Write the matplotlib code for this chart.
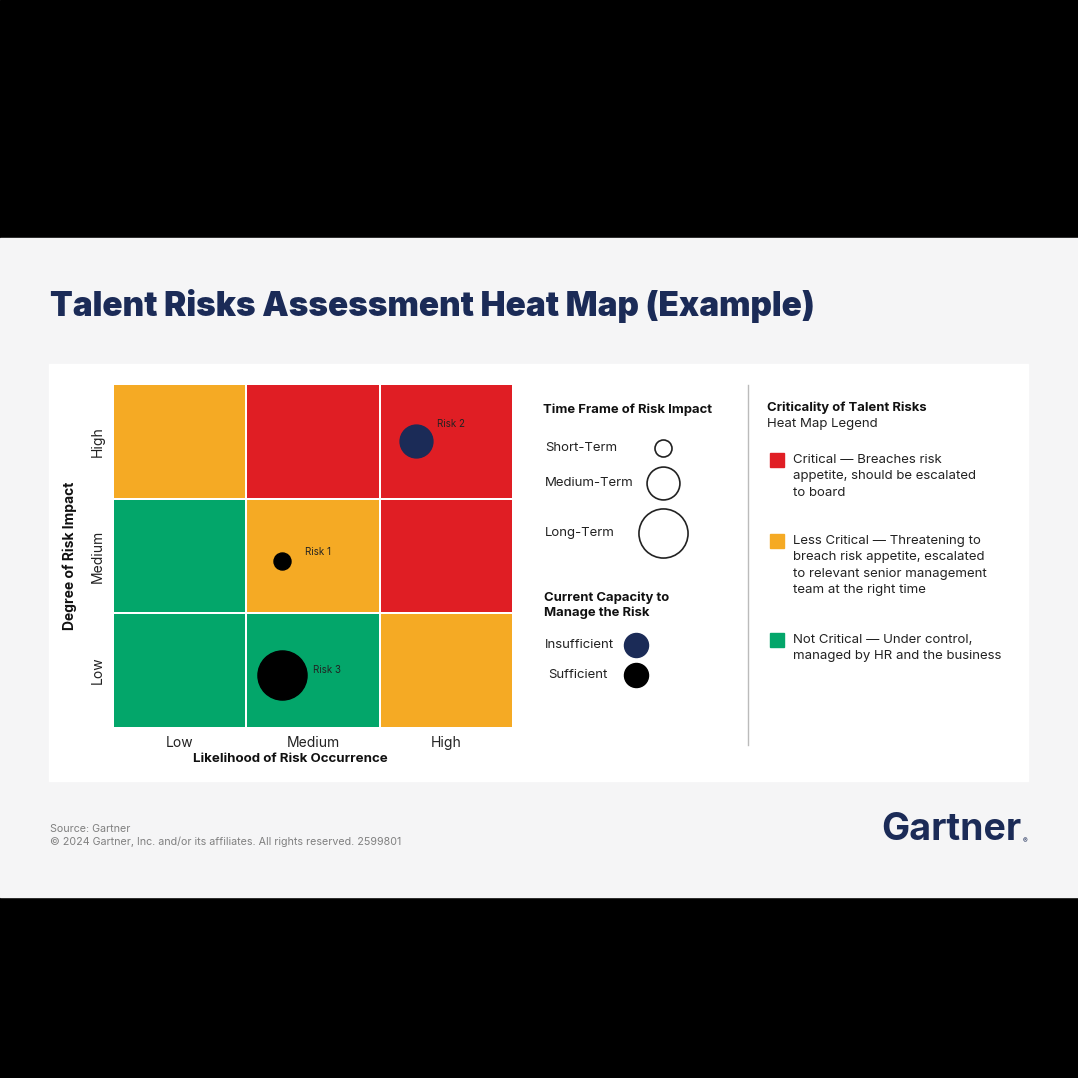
import numpy as np
import matplotlib.pyplot as plt
from matplotlib.colors import ListedColormap
from matplotlib.patches import Rectangle

plt.rcParams['font.family'] = ['Inter', 'DejaVu Sans']

#---data---------------------------------------------------------------

levels = ['Low', 'Medium', 'High']
# criticality per cell, rows = impact (Low -> High), cols = likelihood
# 0 = not critical, 1 = less critical, 2 = critical
grid = [[0, 0, 1],
        [0, 1, 2],
        [1, 2, 2]]

risk_names = ['Risk 1', 'Risk 2', 'Risk 3']
risk_x = [1.27, 2.27, 1.27]
risk_y = [1.46, 2.50, 0.46]
risk_term = ['Short-Term', 'Medium-Term', 'Long-Term']
risk_capacity = ['Sufficient', 'Insufficient', 'Sufficient']

terms = ['Short-Term', 'Medium-Term', 'Long-Term']
term_size = [150, 560, 1250]
capacities = ['Insufficient', 'Sufficient']

crit_labels = [
    ['Critical \u2014 Breaches risk', 'appetite, should be escalated', 'to board'],
    ['Less Critical \u2014 Threatening to', 'breach risk appetite, escalated',
     'to relevant senior management', 'team at the right time'],
    ['Not Critical \u2014 Under control,', 'managed by HR and the business'],
]

#---colores------------------------------------------------------------

green = '#03A66A'
orange = '#F5AA24'
red = '#E01E24'
navy = '#1B2B57'
cap_color = {'Insufficient': navy, 'Sufficient': 'black'}
size_of = dict(zip(terms, term_size))
crit_colors = [red, orange, green]
# desplazamiento de las etiquetas de riesgo (px)
label_off = [(23, 9), (21, 17), (31, 5)]

W = 1078
fig = plt.figure(figsize=(W / 100, W / 100), dpi=100)

# fondo en pixeles
bg = fig.add_axes([0, 0, 1, 1])
bg.set_xlim(0, W)
bg.set_ylim(W, 0)
bg.axis('off')
bg.add_patch(Rectangle((0, 0), W, W, color='black'))
bg.add_patch(Rectangle((0, 238), W, 659, color='#F5F5F6'))
bg.add_patch(Rectangle((49, 364), 979, 417, color='white'))

bg.text(50, 306, 'Talent Risks Assessment Heat Map (Example)', fontsize=24,
        fontweight='black', color=navy, va='center', ha='left')

#---heat map-----------------------------------------------------------

ax = fig.add_axes([113 / W, 1 - 728 / W, 400 / W, 344 / W])
cmap = ListedColormap([green, orange, red])
ax.pcolormesh(np.array(grid), cmap=cmap, vmin=-0.5, vmax=2.5,
              edgecolors='white', linewidth=1.4)
ax.set_xlim(0, 3)
ax.set_ylim(0, 3)
for s in ax.spines.values():
    s.set_visible(False)
ax.set_xticks([0.5, 1.5, 2.5])
ax.set_xticklabels(levels, fontsize=10, color='#222222')
ax.set_yticks([0.5, 1.5, 2.5])
ax.set_yticklabels(levels, fontsize=10, color='#222222', rotation=90, va='center')
ax.tick_params(length=0, pad=6)
ax.set_xlabel('Likelihood of Risk Occurrence', fontsize=9.6, fontweight='bold',
              color='#111111')
ax.xaxis.set_label_coords((290 - 113) / 400, -(753 - 728) / 344)
ax.set_ylabel('Degree of Risk Impact', fontsize=10, fontweight='bold',
              color='#111111', labelpad=10)

for i in range(len(risk_names)):
    ax.scatter(risk_x[i], risk_y[i], s=size_of[risk_term[i]],
               color=cap_color[risk_capacity[i]], zorder=3)
    dx, dy = label_off[i]
    ax.annotate(risk_names[i], (risk_x[i], risk_y[i]),
                xytext=(dx * 0.72, dy * 0.72), textcoords='offset points',
                fontsize=7, color='#222222', va='center')

#---leyenda central------------------------------------------------------

bg.text(543, 410, 'Time Frame of Risk Impact', fontsize=9.4, fontweight='bold',
        color='#111111', va='center')
term_y = [448, 483, 533]
for t, yy in zip(terms, term_y):
    bg.text(545, yy, t, fontsize=9.5, color='#222222', va='center')
    bg.scatter(663, yy, s=size_of[t], facecolor='white', edgecolor='#222222',
               linewidth=1.2)

bg.text(544, 605, 'Current Capacity to\nManage the Risk', fontsize=9.4,
        fontweight='bold', color='#111111', va='center', linespacing=1.3)
cap_y = [645, 675]
cap_x = [545, 548]
for c, xx, yy in zip(capacities, cap_x, cap_y):
    bg.text(xx, yy, c, fontsize=9.5, color='#222222', va='center')
    bg.scatter(636, yy, s=300, color=cap_color[c])

bg.plot([748, 748], [385, 745], color='#BBBBBB', linewidth=1)

#---leyenda derecha------------------------------------------------------

bg.text(767, 408, 'Criticality of Talent Risks', fontsize=9.4, fontweight='bold',
        color='#111111', va='center')
bg.text(767, 424, 'Heat Map Legend', fontsize=9.5, color='#222222', va='center')
crit_y = [460, 541, 640]
for lines, col, y0 in zip(crit_labels, crit_colors, crit_y):
    bg.add_patch(Rectangle((770, y0 - 7), 14, 14, color=col))
    for k, line in enumerate(lines):
        bg.text(793, y0 + k * 16.3, line, fontsize=9.5, color='#222222', va='center')

#---pie------------------------------------------------------------------

bg.text(50, 829, 'Source: Gartner', fontsize=7.7, color='#808080', va='center')
bg.text(50, 842, '\u00a9 2024 Gartner, Inc. and/or its affiliates. All rights reserved. 2599801',
        fontsize=7.7, color='#808080', va='center')
bg.text(1021, 830, 'Gartner', fontsize=27, fontweight='bold', color=navy,
        va='center', ha='right')
bg.text(1025, 841, '\u00ae', fontsize=5, color=navy, va='center', ha='center')

fig.savefig('out.png', dpi=100)
